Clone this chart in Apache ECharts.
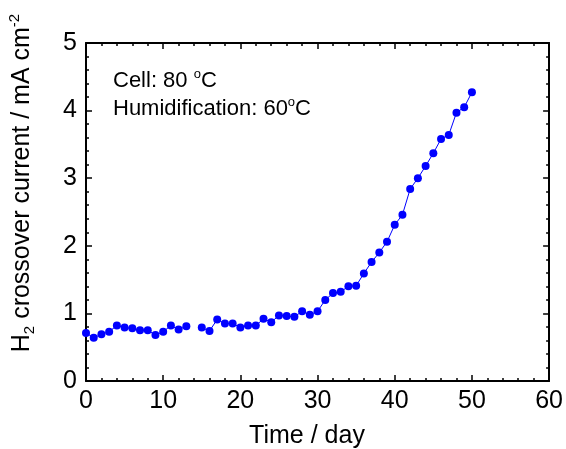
<!DOCTYPE html>
<html>
<head>
<meta charset="utf-8">
<script src="https://cdn.jsdelivr.net/npm/echarts@6/dist/echarts.min.js"></script>
<style>html,body{margin:0;padding:0;background:#fff;}#c{width:566px;height:449px;}</style>
</head>
<body>
<div id="c"></div>
<script>
const days = [0,1,2,3,4,5,6,7,8,9,10,11,12,13,14,15,16,17,18,19,20,21,22,23,24,25,26,27,28,29,30,31,32,33,34,35,36,37,38,39,40,41,42,43,44,45,46,47,48,49,50];
const current = [0.71,0.64,0.69,0.73,0.82,0.79,0.78,0.75,0.75,0.68,0.73,0.82,0.76,0.81,null,
  0.79,0.74,0.91,0.85,0.85,0.79,0.82,0.82,0.92,0.87,0.97,0.96,0.95,1.03,0.98,1.03,
  1.20,1.30,1.32,1.40,1.41,1.59,1.76,1.90,2.06,2.31,2.46,2.84,3.00,3.18,3.37,3.58,3.64,3.97,4.05,4.27];
const xTitle = 'Time / day';
const annotations = ['Cell: 80 ', 'Humidification: 60'];

const FONT = '"Liberation Sans", Arial, sans-serif';
const chart = echarts.init(document.getElementById('c'), null, {renderer: 'canvas'});
const axisCommon = {
  axisLine: {show: true, onZero: false, lineStyle: {color: '#000', width: 2}},
  axisTick: {show: true, inside: true, length: 6, lineStyle: {color: '#000', width: 1.5}},
  minorTick: {show: true, splitNumber: 5, length: 3, lineStyle: {color: '#000', width: 1.5}},
  splitLine: {show: false},
  minorSplitLine: {show: false}
};
const seriesData = days.map((d, i) => [d, current[i]]);
chart.setOption({
  animation: false,
  backgroundColor: '#fff',
  grid: {left: 86, right: 16, top: 43, bottom: 68, containLabel: false},
  xAxis: [
    Object.assign({type: 'value', min: 0, max: 60, interval: 10, position: 'bottom',
      axisLabel: {show: true, margin: 8, fontSize: 25, color: '#000', fontFamily: FONT}}, axisCommon),
    Object.assign({type: 'value', min: 0, max: 60, interval: 10, position: 'top',
      axisLabel: {show: false}}, axisCommon)
  ],
  yAxis: [
    Object.assign({type: 'value', min: 0, max: 5, interval: 1, position: 'left',
      axisLabel: {show: true, margin: 9, fontSize: 25, color: '#000', fontFamily: FONT}}, axisCommon),
    Object.assign({type: 'value', min: 0, max: 5, interval: 1, position: 'right',
      axisLabel: {show: false}}, axisCommon)
  ],
  series: [{
    type: 'line',
    xAxisIndex: 0, yAxisIndex: 0,
    data: seriesData,
    connectNulls: false,
    symbol: 'circle',
    symbolSize: 8,
    itemStyle: {color: '#0000ff'},
    lineStyle: {color: '#0000ff', width: 1}
  }],
  graphic: [
    {type: 'text', x: 307, y: 436, style: {text: xTitle, font: '25px ' + FONT, fill: '#000', align: 'center', verticalAlign: 'middle'}},
    {type: 'text', x: 22, y: 183, rotation: Math.PI / 2,
      style: {text: '{n|H}{sub|2}{n| crossover current / mA cm}{sup|-2}', align: 'center', verticalAlign: 'middle', fill: '#000',
        rich: {
          n: {fontSize: 25, fontFamily: FONT, lineHeight: 30, verticalAlign: 'middle'},
          sub: {fontSize: 15, fontFamily: FONT, lineHeight: 15, verticalAlign: 'bottom'},
          sup: {fontSize: 15, fontFamily: FONT, lineHeight: 15, verticalAlign: 'top'}
        }}},
    {type: 'text', x: 113, y: 81,
      style: {text: '{n|' + annotations[0] + '}{sup|o}{n|C}', align: 'left', verticalAlign: 'middle', fill: '#000',
        rich: {
          n: {fontSize: 22, fontFamily: FONT, lineHeight: 26, verticalAlign: 'middle'},
          sup: {fontSize: 13, fontFamily: FONT, lineHeight: 13, verticalAlign: 'top'}
        }}},
    {type: 'text', x: 113, y: 109,
      style: {text: '{n|' + annotations[1] + '}{sup|o}{n|C}', align: 'left', verticalAlign: 'middle', fill: '#000',
        rich: {
          n: {fontSize: 22, fontFamily: FONT, lineHeight: 26, verticalAlign: 'middle'},
          sup: {fontSize: 13, fontFamily: FONT, lineHeight: 13, verticalAlign: 'top'}
        }}}
  ]
});
</script>
</body>
</html>
